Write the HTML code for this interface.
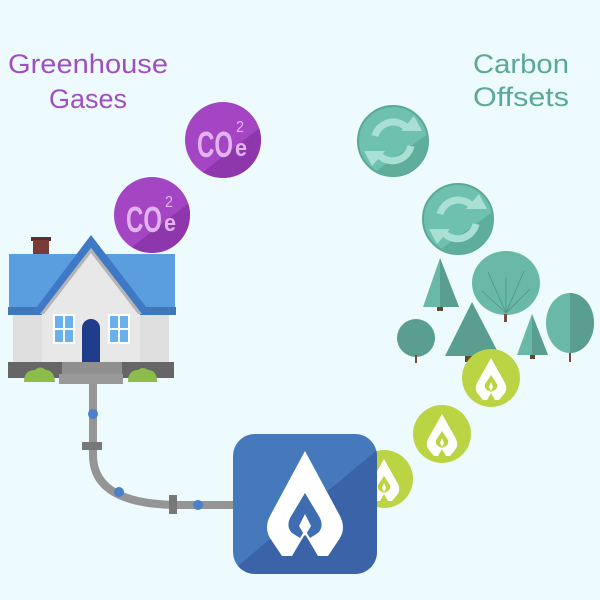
<!DOCTYPE html>
<html><head><meta charset="utf-8"><style>html,body{margin:0;padding:0;background:#edfbfe}svg{display:block}</style></head>
<body>
<svg width="600" height="600" viewBox="0 0 600 600" xmlns="http://www.w3.org/2000/svg">
<rect width="600" height="600" fill="#edfbfe"/>
<g font-family="Liberation Sans, DejaVu Sans, sans-serif" font-size="27">
<text x="88" y="73" text-anchor="middle" fill="#a04fc0" textLength="160" lengthAdjust="spacingAndGlyphs">Greenhouse</text>
<text x="88" y="108" text-anchor="middle" fill="#a04fc0" textLength="78" lengthAdjust="spacingAndGlyphs">Gases</text>
<text x="521" y="73" text-anchor="middle" fill="#5aa896" textLength="96" lengthAdjust="spacingAndGlyphs">Carbon</text>
<text x="521" y="106" text-anchor="middle" fill="#5aa896" textLength="96" lengthAdjust="spacingAndGlyphs">Offsets</text>
</g>
<clipPath id="c1"><circle cx="223" cy="140" r="38"/></clipPath>
<clipPath id="c2"><circle cx="152" cy="215" r="38"/></clipPath>
<clipPath id="c3"><circle cx="393" cy="141" r="35"/></clipPath>
<clipPath id="c4"><circle cx="458" cy="219" r="35"/></clipPath>
<g font-family="Liberation Sans, sans-serif" fill="#e2b3f0">
<circle cx="223" cy="140" r="38" fill="#a445c4"/>
<polygon clip-path="url(#c1)" points="180,190 270,120 270,190" fill="#8e36ab"/>
<text x="197" y="157" font-size="36" font-weight="bold" textLength="36" lengthAdjust="spacingAndGlyphs">CO</text>
<text x="236" y="132" font-size="16" textLength="8" lengthAdjust="spacingAndGlyphs">2</text>
<text x="235" y="156" font-size="24" font-weight="bold" textLength="12" lengthAdjust="spacingAndGlyphs">e</text>
<circle cx="152" cy="215" r="38" fill="#a445c4"/>
<polygon clip-path="url(#c2)" points="109,265 199,195 199,265" fill="#8e36ab"/>
<text x="126" y="232" font-size="36" font-weight="bold" textLength="36" lengthAdjust="spacingAndGlyphs">CO</text>
<text x="165" y="207" font-size="16" textLength="8" lengthAdjust="spacingAndGlyphs">2</text>
<text x="164" y="231" font-size="24" font-weight="bold" textLength="12" lengthAdjust="spacingAndGlyphs">e</text>
</g>
<g>
<circle cx="393" cy="141" r="35" fill="#6ec1ae" stroke="#5aa896" stroke-width="2"/>
<polygon clip-path="url(#c3)" points="350,190 440,125 440,190" fill="#5fae9a"/>
<path d="M375,136 A19,19 0 0 1 408,129 M411,146 A19,19 0 0 1 378,154" fill="none" stroke="#a9e0d3" stroke-width="7"/>
<path d="M401,131 L422,131 L414,116Z M385,151 L364,151 L372,166Z" fill="#a9e0d3"/>
<circle cx="458" cy="219" r="35" fill="#6ec1ae" stroke="#5aa896" stroke-width="2"/>
<polygon clip-path="url(#c4)" points="415,268 505,203 505,268" fill="#5fae9a"/>
<path d="M440,214 A19,19 0 0 1 473,207 M476,224 A19,19 0 0 1 443,232" fill="none" stroke="#a9e0d3" stroke-width="7"/>
<path d="M466,209 L487,209 L479,194Z M450,229 L429,229 L437,244Z" fill="#a9e0d3"/>
</g>
<g>
<polygon points="440,258 423,307 459,307" fill="#6ab8a8"/><polygon points="440,258 440,307 459,307" fill="#5a9e90"/>
<rect x="437" y="307" width="6" height="4" fill="#5a4a30"/>
<ellipse cx="506" cy="283" rx="34" ry="32" fill="#6ab8a8"/>
<rect x="504" y="314" width="3" height="8" fill="#7a4a40"/>
<g stroke="#4e9486" stroke-width="0.8" fill="none"><path d="M506,313 L506,277 M506,313 L488,272 M506,313 L524,271 M506,313 L482,291 M506,313 L530,289"/></g>
<circle cx="416" cy="338" r="19" fill="#5a9e90"/><rect x="415" y="355" width="2" height="8" fill="#7a4a40"/>
<polygon points="472,302 445,356 500,356" fill="#5a9e90"/><rect x="465" y="356" width="10" height="6" fill="#5a4a30"/>
<polygon points="532,314 517,355 548,355" fill="#6ab8a8"/><polygon points="532,314 532,355 548,355" fill="#5a9e90"/>
<rect x="530" y="355" width="5" height="4" fill="#5a4a30"/>
<ellipse cx="570" cy="323" rx="24" ry="30" fill="#6ab8a8"/>
<path d="M570,293 A24,30 0 0 1 570,353Z" fill="#5a9e90"/>
<rect x="569" y="353" width="2" height="9" fill="#7a4a40"/>
</g>
<defs>
<g id="fl">
<path d="M0,-20 L14,5 Q17,11 13,16 L8,22 L4,22 L0,15 L-4,22 L-8,22 L-13,16 Q-17,11 -14,5Z" fill="#fff"/>
<path d="M0,-3 L6,6 Q7,10 4,12 L0,14 L-4,12 Q-7,10 -6,6Z" fill="#bad444"/>
<path d="M0,4 L2,9 L0,13 L-2,9Z" fill="#fff"/>
</g>
</defs>
<g>
<circle cx="384" cy="479" r="29" fill="#bad444"/><use href="#fl" x="384" y="479"/>
<circle cx="442" cy="434" r="29" fill="#bad444"/><use href="#fl" x="442" y="434"/>
<circle cx="491" cy="378" r="29" fill="#bad444"/><use href="#fl" x="491" y="378"/>
</g>
<path d="M93,383 L93,455 Q93,505 180,505 L233,505" fill="none" stroke="#959595" stroke-width="8"/>
<rect x="82" y="442" width="20" height="8" fill="#787878"/>
<rect x="169" y="495" width="8" height="19" fill="#787878"/>
<circle cx="93" cy="414" r="5" fill="#4a80cc"/><circle cx="119" cy="492" r="5" fill="#4a80cc"/><circle cx="198" cy="505" r="5" fill="#4a80cc"/>
<clipPath id="bc"><rect x="233" y="434" width="144" height="140" rx="22"/></clipPath>
<g clip-path="url(#bc)">
<rect x="233" y="434" width="144" height="140" fill="#4579bb"/>
<polygon points="377,450 377,574 233,574 233,570" fill="#3a63a8"/>
</g>
<path d="M305,451 L340,516 Q346,528 340,538 L328,556 L318,556 L305,534 L292,556 L282,556 L270,538 Q264,528 270,516Z" fill="#fff"/>
<path d="M305,493 L320,518 Q324,527 318,533 L310,538 L305,530 L300,538 L292,533 Q286,527 290,518Z" fill="#3f6db2"/>
<path d="M305,514 L311,526 L305,536 L299,526Z" fill="#fff"/>
<g>
<rect x="31" y="237" width="20" height="4" fill="#5a3030"/>
<rect x="33" y="240" width="16" height="28" fill="#7a3a38"/>
<polygon points="9,254 175,254 175,314 9,314" fill="#5b9ee0"/>
<rect x="8" y="307" width="168" height="8" fill="#3f78b8"/>
<rect x="13" y="315" width="156" height="47" fill="#dedede"/>
<polygon points="91,241 140,312 140,362 42,362 42,312" fill="#e8e8e8"/>
<polygon points="91,235 150,312 142,314 91,248 40,314 33,312" fill="#3f78c4"/>
<polygon points="91,248 142,314 138,314 91,253 44,314 40,314" fill="#b4b4b4"/>
<rect x="53" y="314" width="22" height="30" fill="#fff"/><rect x="55" y="316" width="18" height="26" fill="#6ab0ec"/>
<rect x="63" y="316" width="2" height="26" fill="#fff"/><rect x="55" y="328" width="18" height="2" fill="#fff"/>
<rect x="108" y="314" width="22" height="30" fill="#fff"/><rect x="110" y="316" width="18" height="26" fill="#6ab0ec"/>
<rect x="118" y="316" width="2" height="26" fill="#fff"/><rect x="110" y="328" width="18" height="2" fill="#fff"/>
<path d="M82,362 L82,328 A9,9 0 0 1 100,328 L100,362Z" fill="#1f3d8a"/>
<rect x="8" y="362" width="166" height="16" fill="#666"/>
<rect x="62" y="362" width="60" height="16" fill="#909090"/>
<rect x="59" y="374" width="64" height="10" fill="#999"/>
<path d="M24,382 Q24,370 35,370 Q40,365 46,370 Q54,370 55,382Z" fill="#8cbd4a"/>
<path d="M128,382 Q128,370 138,370 Q143,366 148,370 Q157,370 157,382Z" fill="#8cbd4a"/>
</g>
</svg>
</body></html>
